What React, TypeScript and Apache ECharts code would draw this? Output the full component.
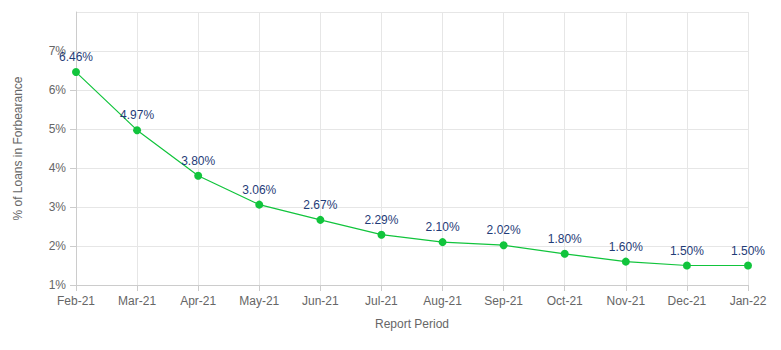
import React, { useEffect, useRef } from "react";
import * as echarts from "echarts";

const categories = ["Feb-21", "Mar-21", "Apr-21", "May-21", "Jun-21", "Jul-21", "Aug-21", "Sep-21", "Oct-21", "Nov-21", "Dec-21", "Jan-22"];
const forbearance = [6.46, 4.97, 3.8, 3.06, 2.67, 2.29, 2.1, 2.02, 1.8, 1.6, 1.5, 1.5];

export default function App() {
  const ref = useRef<HTMLDivElement>(null);
  useEffect(() => {
    const chart = echarts.init(ref.current!, null, { renderer: "svg" });
    const font = "Arial, 'Liberation Sans', sans-serif";
    chart.setOption({
      animation: false,
      grid: { left: 76, right: 33, top: 12, bottom: 65 },
      xAxis: {
        type: "category",
        data: categories,
        boundaryGap: false,
        name: "Report Period",
        nameLocation: "middle",
        nameGap: 33,
        nameTextStyle: { color: "#666", fontSize: 12, fontFamily: font },
        axisLine: { lineStyle: { color: "#ccc" } },
        axisTick: { show: true, length: 6, lineStyle: { color: "#ccc" } },
        axisLabel: { color: "#666", fontSize: 12, fontFamily: font, margin: 10 },
        splitLine: { show: true, lineStyle: { color: "#e6e6e6" } },
      },
      yAxis: {
        type: "value",
        min: 1,
        max: 8,
        interval: 1,
        name: "% of Loans in Forbearance",
        nameLocation: "middle",
        nameGap: 52,
        nameTextStyle: { color: "#666", fontSize: 12, fontFamily: font },
        axisLine: { show: true, lineStyle: { color: "#ccc" } },
        axisTick: { show: true, length: 6, lineStyle: { color: "#ccc" } },
        axisLabel: {
          color: "#666",
          fontSize: 12,
          fontFamily: font,
          margin: 10,
          showMaxLabel: false,
          formatter: (v: number) => `${v}%`,
        },
        splitLine: { show: true, lineStyle: { color: "#e6e6e6" } },
      },
      series: [
        {
          type: "line",
          data: forbearance,
          symbol: "circle",
          symbolSize: 8,
          itemStyle: { color: "#11c43c" },
          lineStyle: { color: "#11c43c", width: 1.2 },
          label: {
            show: true,
            position: "top",
            distance: 5,
            color: "#1f3c78",
            fontSize: 12,
            fontFamily: font,
            formatter: (p: any) => `${p.value.toFixed(2)}%`,
          },
        },
      ],
    });
    return () => chart.dispose();
  }, []);
  return <div ref={ref} style={{ width: 781, height: 350, position: "absolute", left: 0, top: 0 }} />;
}
